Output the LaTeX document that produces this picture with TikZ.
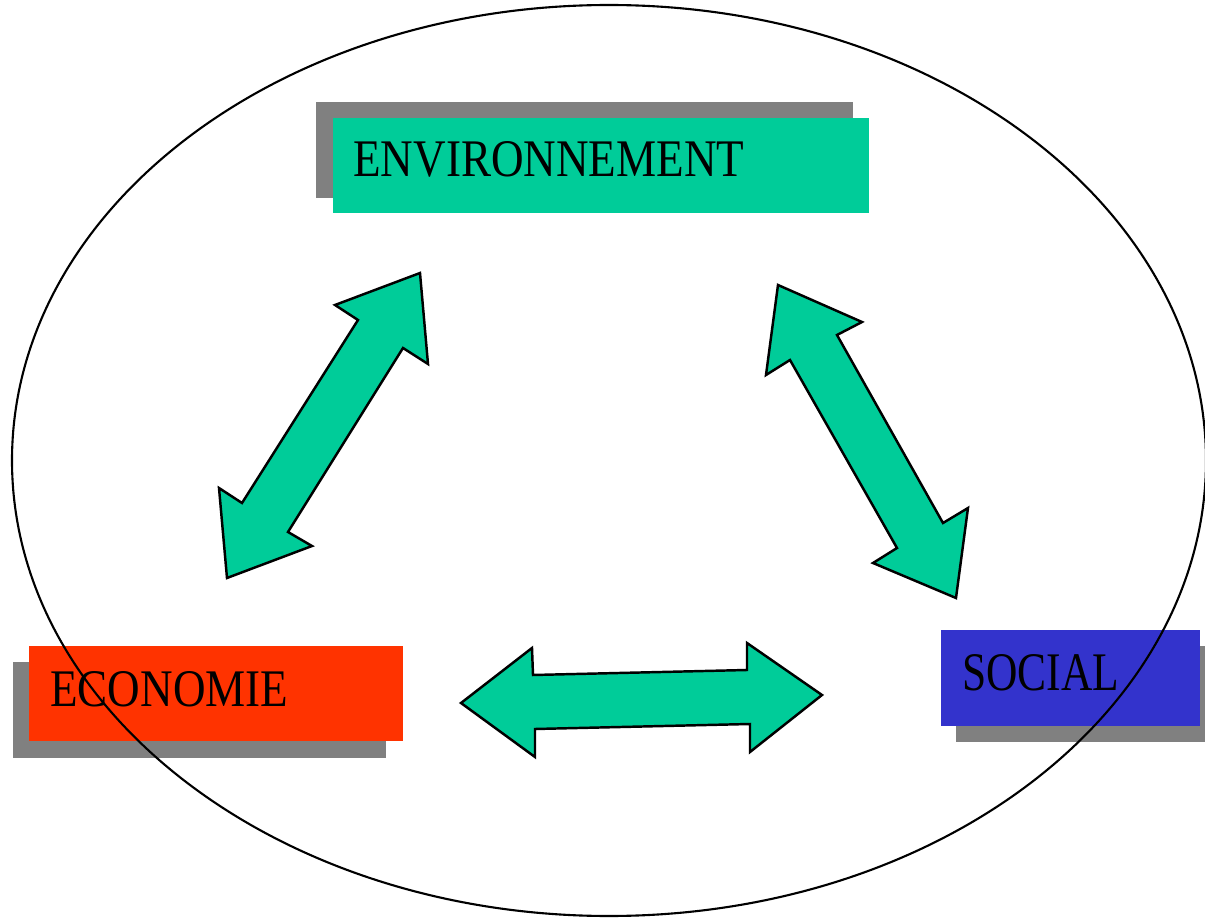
\documentclass[tikz,border=0pt]{standalone}
\usepackage{fontspec}
\setmainfont{Liberation Serif}

\definecolor{envgreen}{RGB}{0,204,153}
\definecolor{ecored}{RGB}{255,51,0}
\definecolor{socblue}{RGB}{51,51,204}
\definecolor{shadowgray}{RGB}{128,128,128}

\tikzset{
  flatarrow/.style={fill=envgreen, draw=black, line width=1.4pt, line join=miter},
  boxlabel/.style={anchor=base west, inner sep=0pt, text=black},
}

\begin{document}
\begin{tikzpicture}[x=0.02cm,y=-0.02cm]
    \clip (0,0) rectangle (1205,919);

    % Shadows
    \fill[shadowgray] (316,102) rectangle (853,198);
    \fill[shadowgray] (13,662)  rectangle (386,758);
    \fill[shadowgray] (956,646) rectangle (1215,742);

    % Boxes
    \fill[envgreen] (333,118) rectangle (869,213);
    \fill[ecored]   (29,646)  rectangle (403,741);
    \fill[socblue]  (941,630) rectangle (1200,726);

    \node[boxlabel] (ENV) at (353,177) {\resizebox{7.82cm}{0.70cm}{ENVIRONNEMENT}};
    \node[boxlabel] (ECO) at (50,706)  {\resizebox{4.76cm}{0.70cm}{ECONOMIE}};
    \node[boxlabel] (SOC) at (962,690) {\resizebox{3.14cm}{0.72cm}{SOCIAL}};

    % Circle
    \draw[line width=1.2pt] (609,460.5) ellipse (597 and 455.5);

    % Arrows
    \draw[flatarrow] (420,273) -- (335,305) -- (358,320) -- (242,503) -- (219,488)
        -- (227,578) -- (312,546) -- (288,532) -- (403,348) -- (428,364) -- cycle;
    \draw[flatarrow] (778,285) -- (862,322) -- (837,335) -- (943,523) -- (968,508)
        -- (956,598) -- (873,563) -- (897,548) -- (790,360) -- (766,375) -- cycle;
    \draw[flatarrow] (461,703) -- (532,648) -- (533,675) -- (747,670) -- (747,643)
        -- (822,695) -- (750,752) -- (750,724) -- (535,729) -- (535,757) -- cycle;
\end{tikzpicture}
\end{document}
